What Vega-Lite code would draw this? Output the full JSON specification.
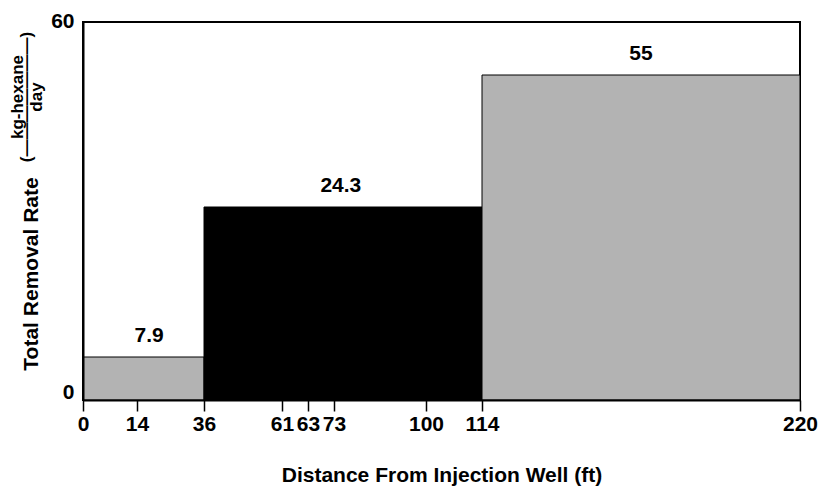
{
  "$schema": "https://vega.github.io/schema/vega-lite/v6.json",
  "width": 717,
  "height": 378,
  "autosize": {"type": "none"},
  "padding": {"left": 83, "top": 22, "right": 21, "bottom": 89},
  "background": "white",
  "config": {
    "view": {"stroke": "black", "strokeWidth": 2},
    "font": "Liberation Sans"
  },
  "data": {
    "values": [
      {"segment": "0-36 ft", "start": 0, "end": 36, "rate": 7.9},
      {"segment": "36-114 ft", "start": 36, "end": 114, "rate": 24.3},
      {"segment": "114-220 ft", "start": 114, "end": 220, "rate": 55}
    ]
  },
  "layer": [
    {
      "mark": {"type": "rect", "stroke": "black", "strokeWidth": 1},
      "encoding": {
        "x": {
          "field": "start",
          "type": "quantitative",
          "scale": {"domain": [0, 14, 36, 61, 63, 73, 100, 114, 220], "range": [0, 54, 121, 199, 225, 251, 343, 399, 717], "zero": false, "nice": false},
          "axis": {
            "orient": "bottom",
            "values": [0, 14, 36, 61, 63, 73, 100, 114, 220],
            "format": "d",
            "labelFont": "Liberation Sans",
            "labelFontWeight": "bold",
            "labelFontSize": 21,
            "labelColor": "black",
            "labelOverlap": false,
            "labelFlush": false,
            "labelBound": false,
            "labelPadding": 2,
            "ticks": true,
            "tickSize": 11,
            "tickWidth": 1.5,
            "tickColor": "black",
            "domain": true,
            "domainColor": "black",
            "domainWidth": 2,
            "grid": false,
            "zindex": 1,
            "title": "Distance From Injection Well (ft)",
            "titleFont": "Liberation Sans",
            "titleFontWeight": "bold",
            "titleFontSize": 21,
            "titleColor": "black",
            "titleX": 358.5,
            "titleY": 81,
            "titleAlign": "center",
            "titleBaseline": "alphabetic"
          }
        },
        "x2": {"field": "end"},
        "y": {
          "field": "rate",
          "type": "quantitative",
          "scale": {"domain": [0, 7.9, 24.3, 55, 60], "range": [378, 335, 185, 53, 0], "zero": false, "nice": false},
          "axis": {
            "orient": "left",
            "values": [0, 60],
            "format": "d",
            "labelFont": "Liberation Sans",
            "labelFontWeight": "bold",
            "labelFontSize": 21,
            "labelColor": "black",
            "labelBaseline": "middle",
            "labelOffset": {"condition": {"test": "datum.value === 0", "value": -8}, "value": -1},
            "labelPadding": 9,
            "labelFlush": false,
            "labelOverlap": false,
            "ticks": false,
            "tickSize": 0,
            "domain": true,
            "domainColor": "black",
            "domainWidth": 2,
            "grid": false,
            "zindex": 1,
            "title": "Total Removal Rate",
            "titleFont": "Liberation Sans",
            "titleFontWeight": "bold",
            "titleFontSize": 21,
            "titleColor": "black",
            "titleAngle": 270,
            "titleAlign": "center",
            "titleBaseline": "alphabetic",
            "titleX": -46,
            "titleY": 251.5
          }
        },
        "y2": {"datum": 0},
        "color": {
          "field": "segment",
          "type": "nominal",
          "scale": {"domain": ["0-36 ft", "36-114 ft", "114-220 ft"], "range": ["#b3b3b3", "#000000", "#b3b3b3"]},
          "legend": null
        }
      }
    },
    {
      "transform": [{"fold": ["start", "end"], "as": ["edge", "pos"]}],
      "mark": {"type": "text", "font": "Liberation Sans", "fontWeight": "bold", "fontSize": 21, "baseline": "alphabetic", "align": "center", "dy": -15, "color": "black"},
      "encoding": {
        "x": {
          "aggregate": "mean",
          "field": "pos",
          "type": "quantitative",
          "scale": {"domain": [0, 14, 36, 61, 63, 73, 100, 114, 220], "range": [0, 54, 121, 199, 225, 251, 343, 399, 717], "zero": false, "nice": false},
          "axis": null
        },
        "y": {
          "field": "rate",
          "type": "quantitative",
          "scale": {"domain": [0, 7.9, 24.3, 55, 60], "range": [378, 335, 185, 53, 0], "zero": false, "nice": false},
          "axis": {
            "orient": "left",
            "labels": false,
            "ticks": false,
            "domain": false,
            "grid": false,
            "title": ["kg-hexane", "(———————)", "day"],
            "titleFont": "Liberation Sans",
            "titleFontWeight": "bold",
            "titleFontSize": 17,
            "titleLineHeight": 9.5,
            "titleColor": "black",
            "titleAngle": 270,
            "titleAlign": "center",
            "titleBaseline": "alphabetic",
            "titleX": -61,
            "titleY": 74.5
          }
        },
        "text": {"field": "rate", "type": "quantitative", "format": ".1~f"}
      }
    }
  ],
  "resolve": {"axis": {"x": "independent", "y": "independent"}}
}
